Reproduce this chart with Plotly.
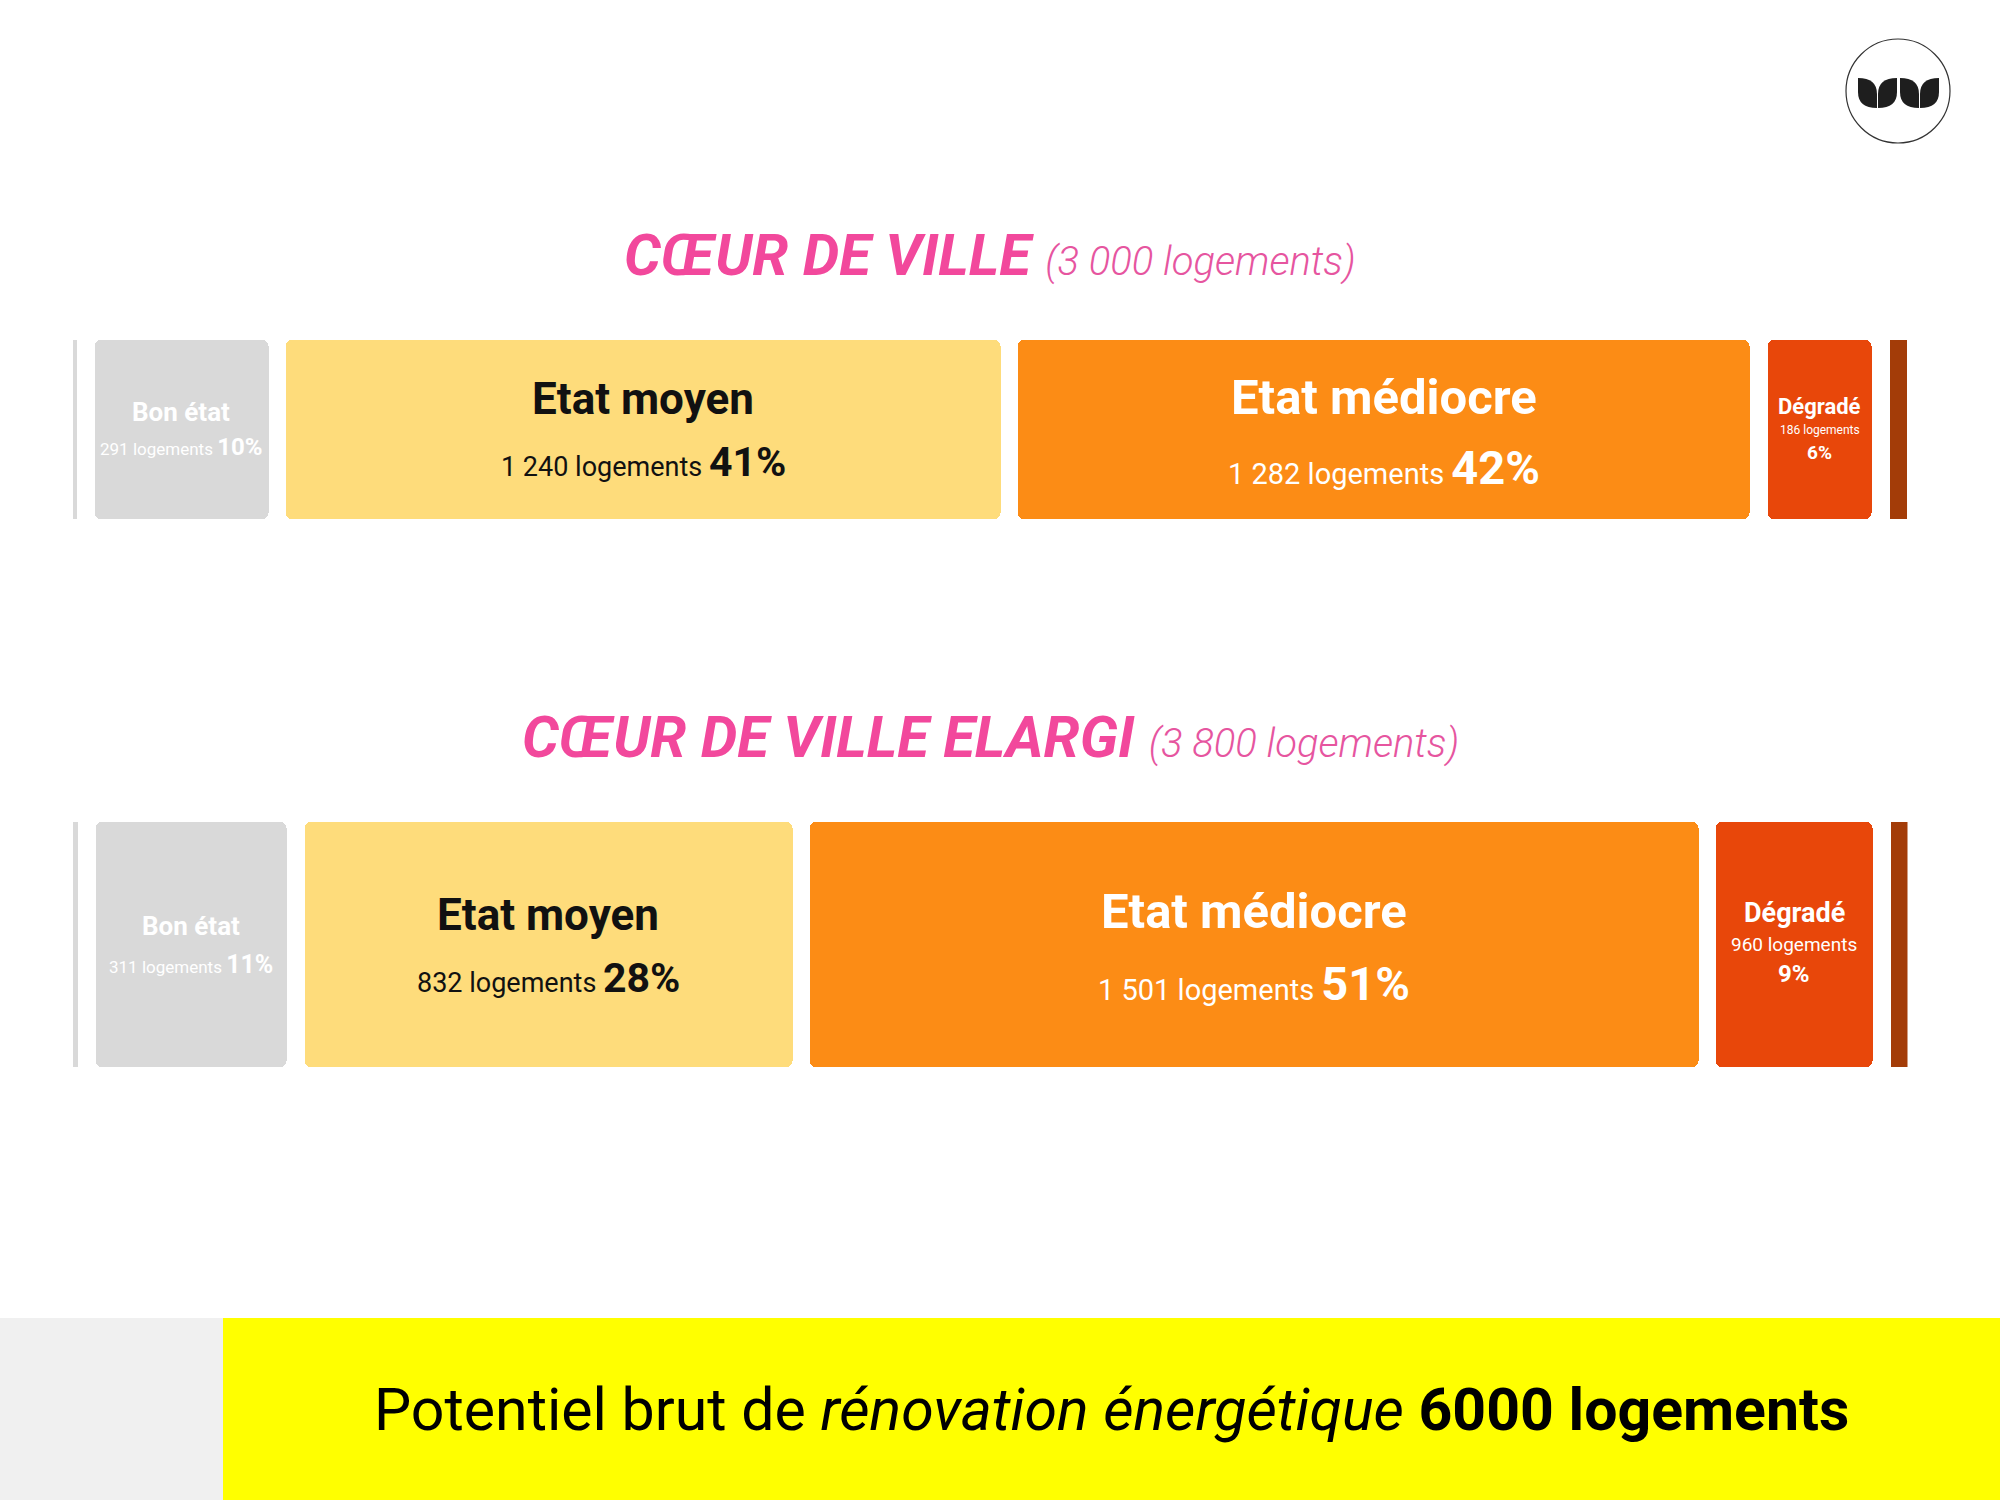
import plotly.graph_objects as go

# ---------------- data ----------------
categories = ["Très bon état", "Bon état", "Etat moyen", "Etat médiocre", "Dégradé", "Très dégradé"]
row_titles = ["CŒUR DE VILLE", "CŒUR DE VILLE ELARGI"]
row_totals = [3000, 3800]
row1_pct = [0.25, 10, 41, 42, 6, 1]
row1_count = [None, 291, 1240, 1282, 186, None]
row2_pct = [0.3, 11, 28, 51, 9, 1]
row2_count = [None, 311, 832, 1501, 960, None]
footer_parts = ["Potentiel brut de ", "rénovation énergétique", "6000 logements"]

# ---------------- styles ----------------
W, H = 2000, 1500
FONT = "Roboto"
colors = ["#D9D9D9", "#D9D9D9", "#FEDC7B", "#FC8C15", "#E8470A", "#A33C08"]
text_colors = ["#FFFFFF", "#FFFFFF", "#111111", "#FFFFFF", "#FFFFFF", "#FFFFFF"]
radius = [0, 6, 6, 6, 6, 0]
GAP = 1.0
PINK = "#F2489C"
PINK2 = "#E6559F"

# vertical band of each row (pixels from top)
row_bands = [(340, 519), (822, 1067)]
title_y_px = [255, 737]

# per-row, per-segment label style: (title size, count size, pct size, title y, count y, pct y) y as domain fraction
label_styles = [
    {1: (26, 17, 24, 0.60, 0.40, None), 2: (44, 27, 41, 0.67, 0.32, None),
     3: (49, 29, 47, 0.68, 0.29, None), 4: (22, 12, 19, 0.63, 0.50, 0.37)},
    {1: (26, 17, 25, 0.575, 0.42, None), 2: (44, 27, 41, 0.62, 0.365, None),
     3: (49, 29, 47, 0.635, 0.34, None), 4: (27, 19, 24, 0.63, 0.50, 0.38)},
]


def fmt(n):
    return f"{n:,}".replace(",", " ")


fig = go.Figure()
rows = [(row1_pct, row1_count), (row2_pct, row2_count)]
xmax = max(sum(p) + GAP * (len(p) - 1) for p, _ in rows)
annotations = []

for r, (pct, cnt) in enumerate(rows):
    xa = "x" if r == 0 else "x2"
    ya = "y" if r == 0 else "y2"
    bases = [sum(pct[:i]) + i * GAP for i in range(len(pct))]
    for i, cat in enumerate(categories):
        fig.add_trace(go.Bar(
            x=[pct[i]], y=[row_titles[r]], base=[bases[i]], orientation="h",
            marker=dict(color=colors[i], line=dict(width=0), cornerradius=radius[i]),
            width=[1.0], name=cat, showlegend=False, hoverinfo="skip",
            xaxis=xa, yaxis=ya,
        ))
        if cnt[i] is None:
            continue
        ts, cs, ps, ty, cy, py = label_styles[r][i]
        cx = bases[i] + pct[i] / 2
        col = text_colors[i]
        yref = ("y" if r == 0 else "y2") + " domain"
        annotations.append(dict(x=cx, y=ty, xref=xa, yref=yref, text=f"<b>{cat}</b>",
                                showarrow=False, font=dict(family=FONT, size=ts, color=col),
                                xanchor="center", yanchor="middle"))
        pct_txt = f"<b>{pct[i]:g}%</b>"
        if py is None:
            annotations.append(dict(
                x=cx, y=cy, xref=xa, yref=yref,
                text=f"{fmt(cnt[i])} logements <span style='font-size:{ps}px'>{pct_txt}</span>",
                showarrow=False, font=dict(family=FONT, size=cs, color=col),
                xanchor="center", yanchor="middle"))
        else:
            annotations.append(dict(x=cx, y=cy, xref=xa, yref=yref, text=f"{fmt(cnt[i])} logements",
                                    showarrow=False, font=dict(family=FONT, size=cs, color=col),
                                    xanchor="center", yanchor="middle"))
            annotations.append(dict(x=cx, y=py, xref=xa, yref=yref, text=pct_txt,
                                    showarrow=False, font=dict(family=FONT, size=ps, color=col),
                                    xanchor="center", yanchor="middle"))

    # row title
    annotations.append(dict(
        x=0.495, y=1 - title_y_px[r] / H, xref="paper", yref="paper",
        text=(f"<b>{row_titles[r]}</b> <span style='font-size:40px;font-weight:300;color:{PINK2}'>"
              f"({fmt(row_totals[r])} logements)</span>"),
        showarrow=False, font=dict(family=FONT, size=58, color=PINK, style="italic"),
        xanchor="center", yanchor="middle"))

# footer
annotations.append(dict(
    x=1111 / W, y=1 - 1409 / H, xref="paper", yref="paper",
    text=f"{footer_parts[0]}<i>{footer_parts[1]}</i> <b>{footer_parts[2]}</b>",
    showarrow=False, font=dict(family=FONT, size=59, color="#000000"),
    xanchor="center", yanchor="middle"))

shapes = [
    dict(type="rect", xref="paper", yref="paper", x0=0, x1=223 / W, y0=0, y1=1 - 1318 / H,
         fillcolor="#F0F0F0", line=dict(width=0), layer="below"),
    dict(type="rect", xref="paper", yref="paper", x0=223 / W, x1=1, y0=0, y1=1 - 1318 / H,
         fillcolor="#FFFF00", line=dict(width=0), layer="below"),
    # logo circle
    dict(type="circle", xref="paper", yref="paper",
         x0=(1898 - 52) / W, x1=(1898 + 52) / W, y0=1 - (91 + 52) / H, y1=1 - (91 - 52) / H,
         line=dict(color="#333333", width=1.2), fillcolor="rgba(0,0,0,0)"),
]


def P(x, y):
    return f"{x / W:.5f},{1 - y / H:.5f}"


leaf_pairs = [(1858, 1877, 1878, 1897), (1900, 1919, 1920, 1939)]
top, bot = 78, 108
mid_lo, mid_hi = 92, 94
for a0, a1, b0, b1 in leaf_pairs:
    # left leaf: tip top-left, tip bottom-right
    shapes.append(dict(type="path", xref="paper", yref="paper",
                       path=(f"M {P(a0, top)} L {P(a0, mid_lo)} Q {P(a0, bot)} {P(a1, bot)} "
                             f"L {P(a1, mid_hi)} Q {P(a1, top)} {P(a0, top)} Z"),
                       fillcolor="#1E1E1E", line=dict(width=0)))
    # right leaf: tip top-right, tip bottom-left
    shapes.append(dict(type="path", xref="paper", yref="paper",
                       path=(f"M {P(b1, top)} L {P(b1, mid_lo)} Q {P(b1, bot)} {P(b0, bot)} "
                             f"L {P(b0, mid_hi)} Q {P(b0, top)} {P(b1, top)} Z"),
                       fillcolor="#1E1E1E", line=dict(width=0)))

xdom = [72.5 / W, 1907.5 / W]
ax = dict(range=[0, xmax], domain=xdom, visible=False, showgrid=False, zeroline=False, fixedrange=True)
fig.update_layout(
    width=W, height=H, margin=dict(l=0, r=0, t=0, b=0),
    paper_bgcolor="#FFFFFF", plot_bgcolor="rgba(0,0,0,0)",
    barmode="overlay", bargap=0,
    xaxis=dict(ax), xaxis2=dict(ax, anchor="y2"),
    yaxis=dict(domain=[1 - row_bands[0][1] / H, 1 - row_bands[0][0] / H], visible=False,
               range=[-0.5, 0.5], anchor="x", fixedrange=True),
    yaxis2=dict(domain=[1 - row_bands[1][1] / H, 1 - row_bands[1][0] / H], visible=False,
                range=[-0.5, 0.5], anchor="x2", fixedrange=True),
    annotations=annotations, shapes=shapes,
    font=dict(family=FONT),
)

fig.write_html("out.html", config={"displayModeBar": False},
               post_script="document.body.style.margin='0';document.body.style.overflow='hidden';")
